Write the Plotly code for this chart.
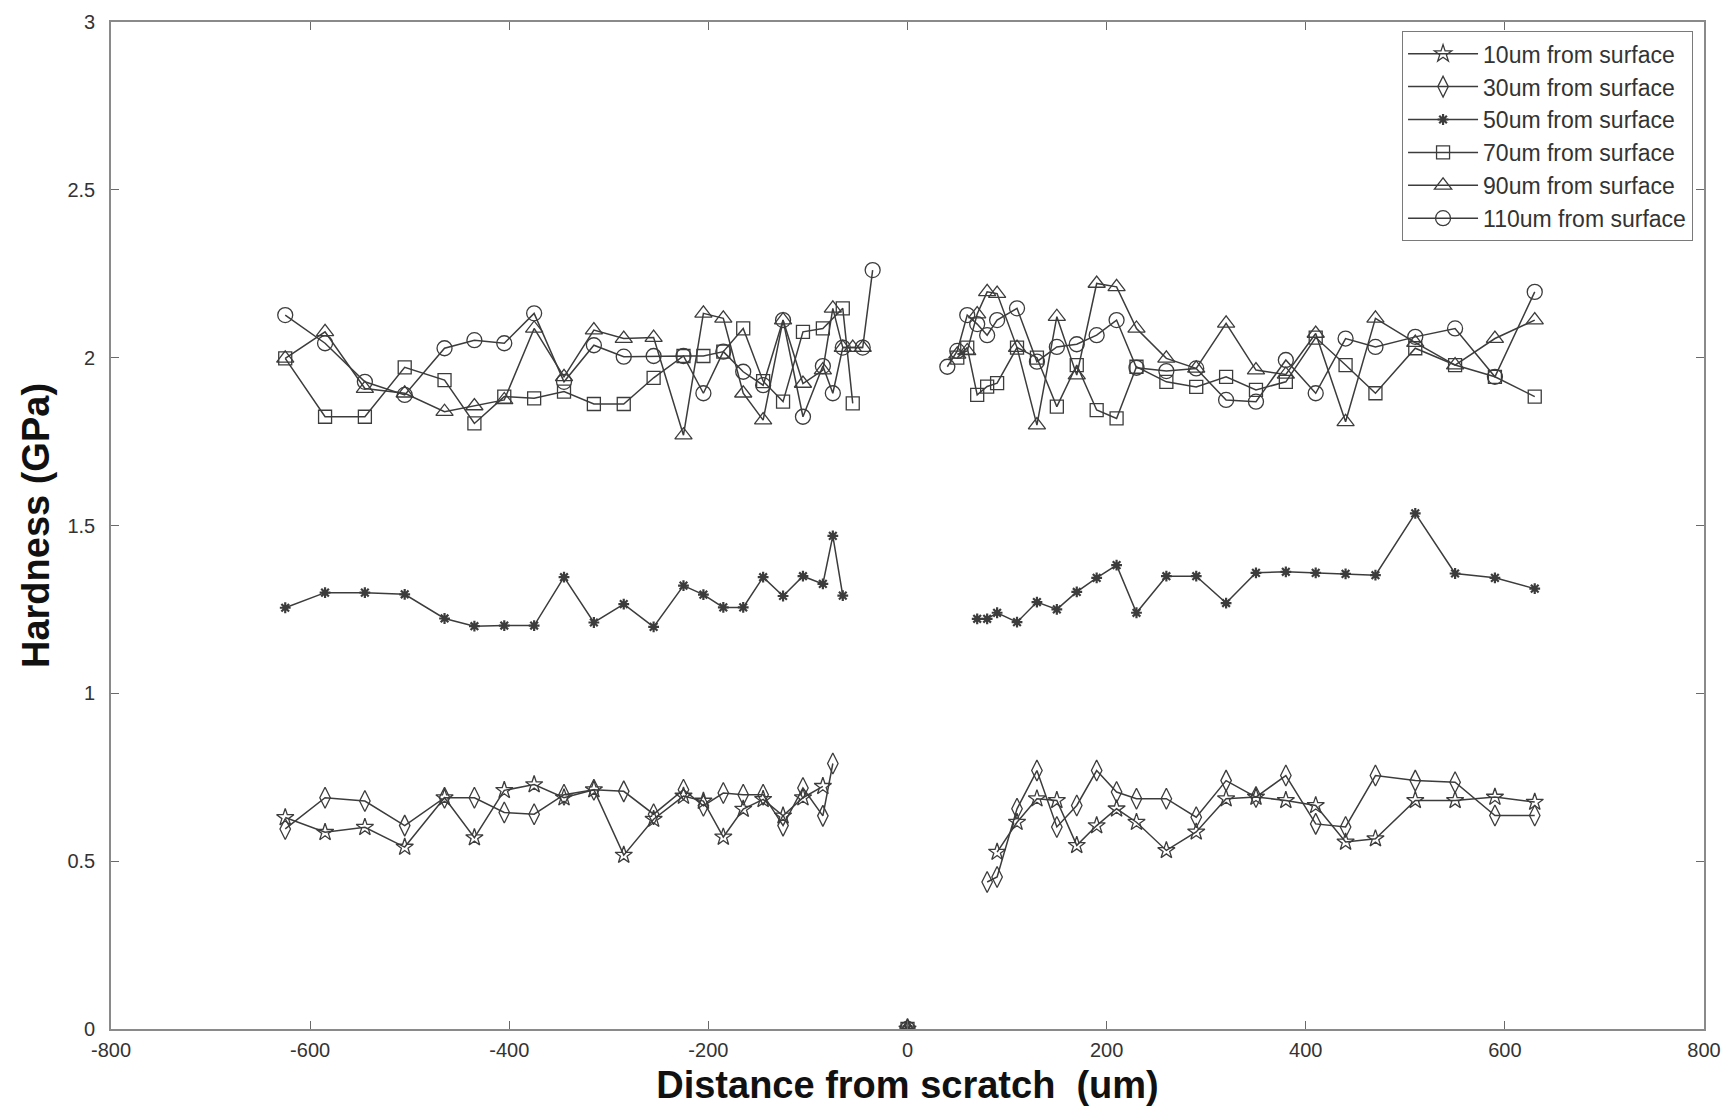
import plotly.graph_objects as go

# ---------------- data ----------------
x10_left = [-625, -585, -545, -505, -465, -435, -405, -375, -345, -315, -285, -255, -225, -205, -185, -165, -145, -125, -105, -85]
y10_left = [0.630, 0.586, 0.601, 0.542, 0.689, 0.570, 0.711, 0.728, 0.689, 0.713, 0.518, 0.625, 0.694, 0.679, 0.572, 0.655, 0.684, 0.635, 0.689, 0.723]
x10_right = [90, 110, 130, 150, 170, 190, 210, 230, 260, 290, 320, 350, 380, 410, 440, 470, 510, 550, 590, 630]
y10_right = [0.527, 0.616, 0.686, 0.681, 0.547, 0.606, 0.656, 0.616, 0.532, 0.587, 0.686, 0.691, 0.681, 0.666, 0.557, 0.567, 0.681, 0.681, 0.691, 0.676]

x30_left = [-625, -585, -545, -505, -465, -435, -405, -375, -345, -315, -285, -255, -225, -205, -185, -165, -145, -125, -105, -85, -75]
y30_left = [0.596, 0.689, 0.679, 0.606, 0.689, 0.689, 0.645, 0.640, 0.698, 0.713, 0.708, 0.640, 0.713, 0.665, 0.703, 0.698, 0.698, 0.606, 0.718, 0.635, 0.791]
x30_right = [80, 90, 110, 130, 150, 170, 190, 210, 230, 260, 290, 320, 350, 380, 410, 440, 470, 510, 550, 590, 630]
y30_right = [0.438, 0.453, 0.656, 0.770, 0.602, 0.666, 0.770, 0.706, 0.686, 0.686, 0.631, 0.740, 0.691, 0.755, 0.611, 0.602, 0.755, 0.740, 0.735, 0.636, 0.636]

x50_left = [-625, -585, -545, -505, -465, -435, -405, -375, -345, -315, -285, -255, -225, -205, -185, -165, -145, -125, -105, -85, -75, -65]
y50_left = [1.255, 1.300, 1.300, 1.295, 1.223, 1.200, 1.202, 1.202, 1.346, 1.211, 1.266, 1.198, 1.321, 1.294, 1.256, 1.256, 1.346, 1.290, 1.349, 1.326, 1.469, 1.291]
x50_right = [70, 80, 90, 110, 130, 150, 170, 190, 210, 230, 260, 290, 320, 350, 380, 410, 440, 470, 510, 550, 590, 630]
y50_right = [1.222, 1.222, 1.240, 1.212, 1.272, 1.250, 1.302, 1.344, 1.382, 1.240, 1.349, 1.349, 1.269, 1.359, 1.362, 1.359, 1.356, 1.352, 1.536, 1.357, 1.344, 1.312]

x70_left = [-625, -585, -545, -505, -465, -435, -405, -375, -345, -315, -285, -255, -225, -205, -185, -165, -145, -125, -105, -85, -65, -55]
y70_left = [1.998, 1.824, 1.824, 1.971, 1.933, 1.804, 1.884, 1.879, 1.899, 1.862, 1.862, 1.940, 2.005, 2.005, 2.018, 2.087, 1.930, 1.869, 2.077, 2.087, 2.147, 1.864]
x70_right = [50, 60, 70, 80, 90, 110, 130, 150, 170, 190, 210, 230, 260, 290, 320, 350, 380, 410, 440, 470, 510, 550, 590, 630]
y70_right = [2.000, 2.030, 1.889, 1.914, 1.924, 2.030, 2.000, 1.854, 1.978, 1.844, 1.819, 1.973, 1.928, 1.913, 1.943, 1.904, 1.928, 2.060, 1.978, 1.894, 2.028, 1.978, 1.943, 1.884]

x90_left = [-625, -585, -545, -505, -465, -435, -405, -375, -345, -315, -285, -255, -225, -205, -185, -165, -145, -125, -105, -85, -75, -65, -55, -45]
y90_left = [1.998, 2.077, 1.908, 1.894, 1.839, 1.856, 1.874, 2.087, 1.943, 2.082, 2.057, 2.060, 1.769, 2.132, 2.117, 1.894, 1.814, 2.112, 1.923, 1.963, 2.147, 2.030, 2.030, 2.030]
x90_right = [50, 60, 70, 80, 90, 110, 130, 150, 170, 190, 210, 230, 260, 290, 320, 350, 380, 410, 440, 470, 510, 550, 590, 630]
y90_right = [2.010, 2.020, 2.130, 2.196, 2.191, 2.030, 1.799, 2.122, 1.948, 2.221, 2.211, 2.087, 1.998, 1.968, 2.102, 1.963, 1.950, 2.072, 1.809, 2.117, 2.045, 1.978, 2.057, 2.112]

x110_left = [-625, -585, -545, -505, -465, -435, -405, -375, -345, -315, -285, -255, -225, -205, -185, -165, -145, -125, -105, -85, -75, -65, -45, -35]
y110_left = [2.127, 2.043, 1.928, 1.889, 2.028, 2.052, 2.043, 2.132, 1.928, 2.037, 2.003, 2.005, 2.005, 1.894, 2.018, 1.958, 1.918, 2.112, 1.824, 1.975, 1.894, 2.030, 2.030, 2.261]
x110_right = [40, 50, 60, 70, 80, 90, 110, 130, 150, 170, 190, 210, 230, 260, 290, 320, 350, 380, 410, 440, 470, 510, 550, 590, 630]
y110_right = [1.973, 2.020, 2.127, 2.100, 2.067, 2.112, 2.147, 1.988, 2.032, 2.040, 2.067, 2.112, 1.970, 1.960, 1.968, 1.874, 1.869, 1.993, 1.894, 2.057, 2.032, 2.062, 2.087, 1.943, 2.196]

# point measured at the scratch itself
x_scratch = [0]
y_scratch = [0.0]

names = ["10um from surface", "30um from surface", "50um from surface",
         "70um from surface", "90um from surface", "110um from surface"]

x_ticks = [-800, -600, -400, -200, 0, 200, 400, 600, 800]
y_ticks = [0, 0.5, 1, 1.5, 2, 2.5, 3]
y_tick_labels = ["0", "0.5", "1", "1.5", "2", "2.5", "3"]

# ---------------- figure ----------------
series = [
    (x10_left, y10_left, x10_right, y10_right, "star-open", 13),
    (x30_left, y30_left, x30_right, y30_right, "diamond-tall-open", 15),
    (x50_left, y50_left, x50_right, y50_right, "asterisk-open", 9),
    (x70_left, y70_left, x70_right, y70_right, "square-open", 13),
    (x90_left, y90_left, x90_right, y90_right, "triangle-up-open", 15),
    (x110_left, y110_left, x110_right, y110_right, "circle-open", 15),
]

LINE = "#3c3c3c"
fig = go.Figure()
for name, (xl, yl, xr, yr, sym, size) in zip(names, series):
    xs = list(xl) + [None] + x_scratch + [None] + list(xr)
    ys = list(yl) + [None] + y_scratch + [None] + list(yr)
    fig.add_trace(go.Scatter(
        x=xs, y=ys, name=name, mode="lines+markers", connectgaps=False,
        line=dict(color=LINE, width=1.5),
        marker=dict(symbol=sym, size=size, color=LINE,
                    line=dict(color=LINE, width=2.2 if sym == "asterisk-open" else 1.3)),
    ))

axis_common = dict(
    showline=True, linecolor="#8a8a8a", linewidth=1.6, mirror="ticks",
    ticks="inside", ticklen=8, tickcolor="#6a6a6a", tickwidth=1.2,
    showgrid=False, zeroline=False,
    tickfont=dict(family="Liberation Sans", size=20, color="#333333"),
)

fig.update_xaxes(
    range=[-800, 800], tickmode="array", tickvals=x_ticks,
    ticktext=[str(v) for v in x_ticks], ticklabelstandoff=2,
    title=dict(text="Distance from scratch\u00a0 (um)", standoff=12,
               font=dict(family="Liberation Sans", size=38, color="#111111", weight="bold")),
    **axis_common,
)
fig.update_yaxes(
    range=[0, 3], tickmode="array", tickvals=y_ticks, ticktext=y_tick_labels,
    ticklabelstandoff=10,
    title=dict(text="Hardness (GPa)", standoff=6,
               font=dict(family="Liberation Sans", size=38, color="#111111", weight="bold")),
    **axis_common,
)

fig.update_layout(
    width=1735, height=1114,
    margin=dict(l=111, r=31, t=22, b=85),
    paper_bgcolor="white", plot_bgcolor="white",
    font=dict(family="Liberation Sans", color="#333333"),
    legend=dict(
        x=0.993, y=0.991, xanchor="right", yanchor="top",
        bgcolor="white", bordercolor="#7a7a7a", borderwidth=1.2,
        font=dict(family="Liberation Sans", size=23, color="#333333"),
        itemwidth=70, tracegroupgap=0,
    ),
    showlegend=True,
)

fig.write_html("out.html")
